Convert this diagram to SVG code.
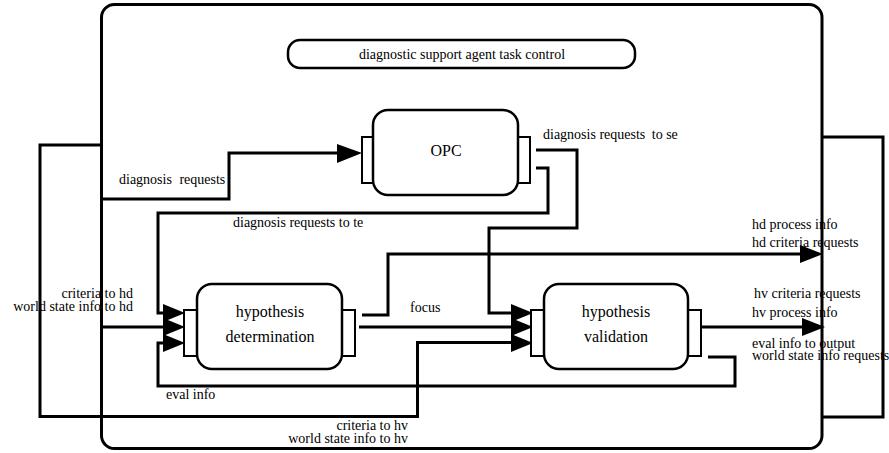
<svg xmlns="http://www.w3.org/2000/svg" width="889" height="453" viewBox="0 0 889 453">
<defs>
<style>
.ln{fill:none;stroke:#000;stroke-width:3;stroke-linejoin:miter}
.box{fill:#fff;stroke:#000;stroke-width:2.5}
.port{fill:#fff;stroke:#000;stroke-width:2}
.ah{fill:#000;stroke:none}
text{font-family:'Liberation Serif','Times New Roman','DejaVu Serif',serif;fill:#000}
.sm{font-size:14px}
.lg{font-size:16px}
</style>
</defs>
<rect width="889" height="453" fill="#fff"/>
<g id="frame">
<rect x="101.5" y="4.5" width="720.5" height="444" rx="13" fill="none" stroke="#000" stroke-width="3"/>
<path class="ln" d="M101.5,145 H40 V416.5 H417.5 V342.5 H512"/>
<path class="ln" d="M822,137 H883 V417 H822"/>
</g>
<g id="task-control">
<rect x="288" y="40" width="347" height="28" rx="12" fill="#fff" stroke="#000" stroke-width="2.5"/>
<text class="sm" x="462" y="59" text-anchor="middle" font-family="Liberation Serif, serif">diagnostic support agent task control</text>
</g>
<g id="connectors">
<path class="ln" d="M101.5,199 H229 V153 H340"/>
<path class="ln" d="M536,168 H548 V213 H158 V313 H166"/>
<path class="ln" d="M536,150 H577 V228 H489 V313 H514"/>
<path class="ln" d="M101.5,327 H166"/>
<path class="ln" d="M708,357 H735 V386 H158 V343 H166"/>
<path class="ln" d="M362,315 H388 V254 H802"/>
<path class="ln" d="M359,327 H514"/>
<path class="ln" d="M702,327 H804"/>
<polygon class="ah" points="337,144 362,153 337,163"/>
<polygon class="ah" points="163,304 185,313 163,322"/>
<polygon class="ah" points="163,318 185,327 163,336"/>
<polygon class="ah" points="163,334 185,343 163,352"/>
<polygon class="ah" points="511,304 533,313 511,322"/>
<polygon class="ah" points="511,318 533,327 511,336"/>
<polygon class="ah" points="511,334 533,343 511,352"/>
<polygon class="ah" points="800,245 823,254 800,263"/>
<polygon class="ah" points="802,318 825,327 802,336"/>
</g>
<g id="opc">
<rect class="port" x="362" y="137" width="11" height="46"/>
<rect class="port" x="518" y="137" width="12" height="46"/>
<rect class="box" x="373" y="110" width="145" height="85" rx="15"/>
<text class="lg" x="446" y="156" text-anchor="middle">OPC</text>
</g>
<g id="hypothesis-determination">
<rect class="port" x="184" y="310" width="13" height="46"/>
<rect class="port" x="342" y="310" width="13" height="46"/>
<rect class="box" x="197" y="284" width="145" height="85" rx="15"/>
<text class="lg" x="270" y="317" text-anchor="middle">hypothesis</text>
<text class="lg" x="270" y="342" text-anchor="middle">determination</text>
</g>
<g id="hypothesis-validation">
<rect class="port" x="531" y="310" width="13" height="46"/>
<rect class="port" x="688" y="310" width="13" height="46"/>
<rect class="box" x="544" y="284" width="144" height="85" rx="15"/>
<text class="lg" x="616" y="317" text-anchor="middle">hypothesis</text>
<text class="lg" x="616" y="342" text-anchor="middle">validation</text>
</g>
<g id="labels">
<text class="sm" x="119" y="184">diagnosis<tspan dx="4"> requests</tspan></text>
<text class="sm" x="233" y="227">diagnosis requests to te</text>
<text class="sm" x="543" y="139">diagnosis requests<tspan dx="3"> to se</tspan></text>
<text class="sm" x="752" y="229">hd process info</text>
<text class="sm" x="752" y="247">hd criteria requests</text>
<text class="sm" x="754" y="298">hv criteria requests</text>
<text class="sm" x="752" y="317">hv process info</text>
<text class="sm" x="752" y="348">eval info to output</text>
<text class="sm" x="752" y="360">world state info requests</text>
<text class="sm" x="133" y="298" text-anchor="end">criteria to hd</text>
<text class="sm" x="133" y="311" text-anchor="end">world state info to hd</text>
<text class="sm" x="410" y="312">focus</text>
<text class="sm" x="166" y="399">eval info</text>
<text class="sm" x="408" y="430" text-anchor="end">criteria to hv</text>
<text class="sm" x="408" y="443" text-anchor="end">world state info to hv</text>
</g>
</svg>
